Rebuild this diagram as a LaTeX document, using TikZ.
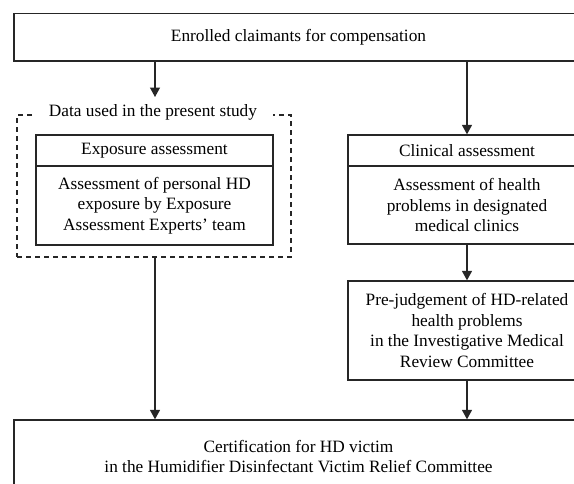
\documentclass[tikz,border=0pt]{standalone}
\usepackage{fontspec}
\setmainfont{Liberation Serif}
\usetikzlibrary{arrows.meta}
\begin{document}
\begin{tikzpicture}[x=1pt,y=-1pt,
  every node/.style={font=\fontsize{17.3}{20.5}\selectfont, align=center, inner sep=0pt},
  box/.style={draw=black!85, line width=1.3pt, fill=white},
  dbox/.style={draw=black!85, line width=1.3pt, dash pattern=on 5pt off 4pt},
  arr/.style={draw=black!85, line width=1.3pt, -{Triangle[length=9.5pt,width=10pt]}}]
\useasboundingbox (0,0) rectangle (574,483);
\clip (0,0) rectangle (574,483);
% top box
\node[box, minimum width=569pt, minimum height=47.7pt] (top) at (298.5,37.2) {\raisebox{-1.5pt}{Enrolled claimants for compensation}};
% dashed study region
\node[dbox, minimum width=274pt, minimum height=142pt] (study) at (154,186) {};
\node[fill=white, inner xsep=16pt, inner ysep=1pt] (studylabel) at (153,112.5) {Data used in the present study};
% exposure
\node[box, minimum width=237pt, minimum height=31pt] (exphead) at (154.5,150.5) {\raisebox{-1.5pt}{Exposure assessment}};
\node[box, minimum width=237pt, minimum height=79pt] (expbody) at (154.5,205.5) {Assessment of personal HD\\exposure by Exposure\\Assessment Experts’ team};
% clinical
\node[box, minimum width=238pt, minimum height=31pt] (clinhead) at (467,150.5) {\raisebox{-1.5pt}{Clinical assessment}};
\node[box, minimum width=238pt, minimum height=78pt] (clinbody) at (467,205) {Assessment of health\\problems in designated\\medical clinics};
% pre-judgement
\node[box, minimum width=238pt, minimum height=99pt] (pre) at (467,330.5) {Pre-judgement of HD-related\\health problems\\in the Investigative Medical\\Review Committee};
% bottom
\node[box, minimum width=569pt, minimum height=73pt] (bottom) at (298.5,456.5) {Certification for HD victim\\in the Humidifier Disinfectant Victim Relief Committee};
% connectors
\coordinate (a1) at (155,97);
\draw[arr] (top.south -| a1) -- (a1);
\draw[arr] (top.south -| clinhead.north) -- (clinhead.north);
\draw[arr] (clinbody.south) -- (pre.north);
\draw[arr] (study.south -| a1) -- (bottom.north -| a1);
\draw[arr] (pre.south) -- (pre.south |- bottom.north);
\end{tikzpicture}
\end{document}
